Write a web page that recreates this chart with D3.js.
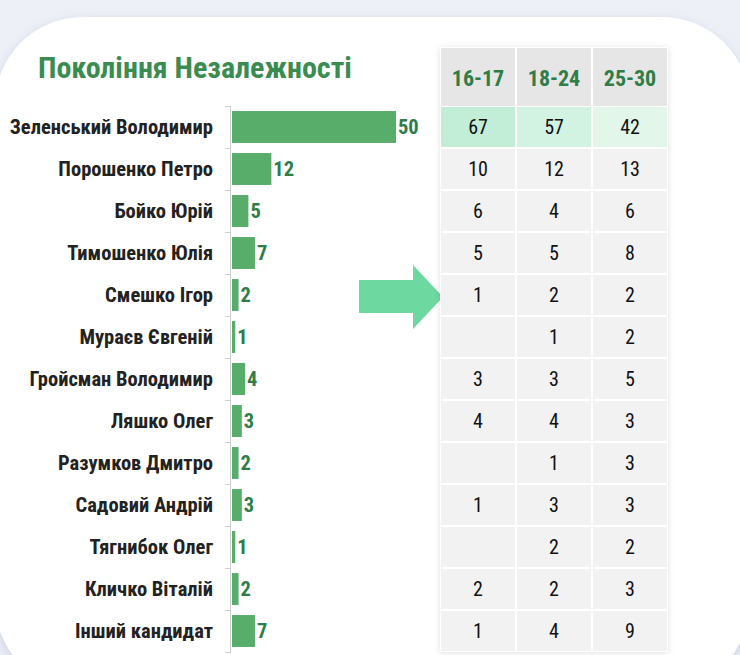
<!DOCTYPE html>
<html>
<head>
<meta charset="utf-8">
<script src="https://cdn.jsdelivr.net/npm/d3@7"></script>
<style>
  body { margin: 0; background: #edf0f6; }
  svg { display: block; }
  .narrow { font-family: "Liberation Sans Narrow", "Arial Narrow", "Roboto Condensed", sans-serif; }
</style>
</head>
<body>
<div id="chart"></div>
<script>
// candidates and overall support
var candidates = ["Зеленський Володимир", "Порошенко Петро", "Бойко Юрій", "Тимошенко Юлія",
    "Смешко Ігор", "Мураєв Євгеній", "Гройсман Володимир", "Ляшко Олег", "Разумков Дмитро",
    "Садовий Андрій", "Тягнибок Олег", "Кличко Віталій", "Інший кандидат"];
var totals = [50, 12, 5, 7, 2, 1, 4, 3, 2, 3, 1, 2, 7];

// age group columns
var ageGroups = ["16-17", "18-24", "25-30"];
var age1617 = [67, 10, 6, 5, 1, null, 3, 4, null, 1, null, 2, 1];
var age1824 = [57, 12, 4, 5, 2, 1, 3, 4, 1, 3, 2, 2, 4];
var age2530 = [42, 13, 6, 8, 2, 2, 5, 3, 3, 3, 2, 3, 9];

var title = "Покоління Незалежності";

var svgWidth = 740, svgHeight = 655;

var svg = d3.select("#chart").append("svg")
    .attr("width", svgWidth)
    .attr("height", svgHeight);

var defs = svg.append("defs");
var cardShadow = defs.append("filter").attr("id", "cardShadow")
    .attr("x", "-10%").attr("y", "-10%").attr("width", "120%").attr("height", "120%");
cardShadow.append("feDropShadow")
    .attr("dx", 0).attr("dy", 4).attr("stdDeviation", 6)
    .attr("flood-color", "#8f97c8").attr("flood-opacity", 0.35);
var tableShadow = defs.append("filter").attr("id", "tableShadow")
    .attr("x", "-10%").attr("y", "-10%").attr("width", "120%").attr("height", "120%");
tableShadow.append("feDropShadow")
    .attr("dx", 0).attr("dy", 1).attr("stdDeviation", 3)
    .attr("flood-color", "#000").attr("flood-opacity", 0.12);

// white card
svg.append("rect")
    .attr("x", -5).attr("y", 17)
    .attr("width", 755).attr("height", 673)
    .attr("rx", 88).attr("ry", 88)
    .attr("fill", "#fff")
    .attr("filter", "url(#cardShadow)");

// title
svg.append("text")
    .attr("class", "narrow")
    .attr("x", 38).attr("y", 78)
    .attr("fill", "#3b8c50")
    .attr("font-size", 30)
    .attr("font-weight", "bold")
    .text(title);

// scales
var y = d3.scaleBand()
    .domain(candidates)
    .range([106, 652])
    .paddingInner(0.24)
    .paddingOuter(0.12);

var x = d3.scaleLinear()
    .domain([0, 50])
    .range([231, 395]);

var yAxis = d3.axisLeft(y).tickSize(0).tickPadding(18);
var axisG = svg.append("g")
    .attr("transform", "translate(231,0)")
    .call(yAxis);
axisG.select(".domain").remove();
axisG.selectAll("text")
    .attr("class", "narrow")
    .attr("font-size", 20.5)
    .attr("font-weight", "bold")
    .attr("fill", "#222");

// axis line with ticks between categories
var step = y.step();
var bounds = d3.range(candidates.length + 1).map(i => y.range()[0] + i * step);
svg.append("line")
    .attr("x1", 230.5).attr("x2", 230.5)
    .attr("y1", bounds[0]).attr("y2", bounds[bounds.length - 1])
    .attr("stroke", "#cfcfcf");
svg.selectAll(".tk").data(bounds).enter().append("line")
    .attr("x1", 225).attr("x2", 231)
    .attr("y1", d => d + 0.5).attr("y2", d => d + 0.5)
    .attr("stroke", "#cfcfcf");

// bars
svg.selectAll(".bar").data(candidates).enter().append("rect")
    .attr("x", x(0) + 1)
    .attr("y", d => y(d))
    .attr("width", (d, i) => x(totals[i]) - x(0))
    .attr("height", y.bandwidth())
    .attr("fill", "#58ad6b");

svg.selectAll(".val").data(candidates).enter().append("text")
    .attr("class", "narrow")
    .attr("x", (d, i) => x(totals[i]) + 3)
    .attr("y", d => y(d) + y.bandwidth() / 2)
    .attr("dy", "0.35em")
    .attr("font-size", 20.5)
    .attr("font-weight", "bold")
    .attr("fill", "#2f7d47")
    .text((d, i) => totals[i]);

// arrow
var arrowPts = [[359, 280], [413, 280], [413, 265], [443, 297], [413, 329], [413, 313], [359, 313]];
svg.append("path")
    .attr("d", d3.line()(arrowPts) + "Z")
    .attr("fill", "#6dd89f");

// table
var cols = d3.scaleBand().domain(ageGroups).range([440, 668]);
var colValues = [age1617, age1824, age2530];
var firstRowFill = ["#c2eed7", "#d2f3e1", "#e2f7ea"];

var table = svg.append("g");
table.append("rect")
    .attr("x", 440).attr("y", 47)
    .attr("width", 228).attr("height", 605)
    .attr("fill", "#fff")
    .attr("filter", "url(#tableShadow)");

// header
table.selectAll(".hdr").data(ageGroups).enter().append("rect")
    .attr("x", d => cols(d) + 1)
    .attr("y", 48)
    .attr("width", cols.bandwidth() - 2)
    .attr("height", 106 - 48)
    .attr("fill", "#e6e6e6");
table.selectAll(".hdrText").data(ageGroups).enter().append("text")
    .attr("class", "narrow")
    .attr("x", d => cols(d) + cols.bandwidth() / 2)
    .attr("y", 78)
    .attr("dy", "0.35em")
    .attr("text-anchor", "middle")
    .attr("font-size", 22)
    .attr("font-weight", "bold")
    .attr("fill", "#2f7d47")
    .text(d => d);

// body cells
var cells = [];
ageGroups.forEach((g, c) => {
    candidates.forEach((name, r) => {
        cells.push({ group: g, col: c, name: name, row: r, value: colValues[c][r] });
    });
});

table.selectAll(".cell").data(cells).enter().append("rect")
    .attr("x", d => cols(d.group) + 1)
    .attr("y", d => bounds[d.row] + 1)
    .attr("width", cols.bandwidth() - 2)
    .attr("height", step - 2)
    .attr("fill", d => d.row === 0 ? firstRowFill[d.col] : "#f2f2f2");

table.selectAll(".cellText").data(cells.filter(d => d.value != null)).enter().append("text")
    .attr("class", "narrow")
    .attr("x", d => cols(d.group) + cols.bandwidth() / 2)
    .attr("y", d => y(d.name) + y.bandwidth() / 2)
    .attr("dy", "0.35em")
    .attr("text-anchor", "middle")
    .attr("font-size", 20)
    .attr("fill", "#111")
    .text(d => d.value);
</script>
</body>
</html>
